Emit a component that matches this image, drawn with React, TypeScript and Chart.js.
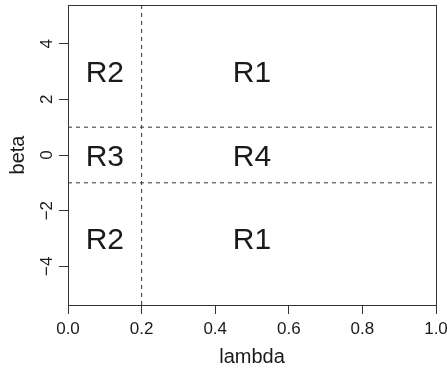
import React, { useEffect, useRef } from "react";
import { Chart, registerables } from "chart.js";

Chart.register(...registerables);

const xTicks = [0, 0.2, 0.4, 0.6, 0.8, 1.0];
const yTicks = [-4, -2, 0, 2, 4];
const xRange = [0, 1];
const yRange = [-5.39, 5.39];
const splitLambda = [0.2];
const splitBeta = [1, -1];
const regionNames = ["R2", "R1", "R3", "R4", "R2", "R1"];
const regionLambda = [0.1, 0.5, 0.1, 0.5, 0.1, 0.5];
const regionBeta = [3, 3, 0, 0, -3, -3];

const FONT = "'Liberation Sans', Arial, Helvetica, sans-serif";
const INK = "#1a1a1a";
const LINE = "#333333";

export default function App() {
  const ref = useRef<HTMLCanvasElement | null>(null);

  useEffect(() => {
    document.body.style.margin = "0";
    const canvas = ref.current;
    if (!canvas) return;

    const datasets: any[] = [];
    splitLambda.forEach((v) =>
      datasets.push({
        type: "line",
        data: [
          { x: v, y: yRange[0] },
          { x: v, y: yRange[1] },
        ],
        borderColor: LINE,
        borderWidth: 1,
        borderDash: [4, 4],
        pointRadius: 0,
        fill: false,
      })
    );
    splitBeta.forEach((v) =>
      datasets.push({
        type: "line",
        data: [
          { x: xRange[0], y: v },
          { x: xRange[1], y: v },
        ],
        borderColor: LINE,
        borderWidth: 1,
        borderDash: [4, 4],
        pointRadius: 0,
        fill: false,
      })
    );

    const overlay = {
      id: "overlay",
      afterDraw(chart: any) {
        const { ctx, chartArea, scales } = chart;
        const xs = scales.x;
        const ys = scales.y;
        ctx.save();
        ctx.strokeStyle = LINE;
        ctx.lineWidth = 1;
        ctx.strokeRect(
          Math.round(chartArea.left) + 0.5,
          Math.round(chartArea.top) + 0.5,
          Math.round(chartArea.right - chartArea.left),
          Math.round(chartArea.bottom - chartArea.top)
        );
        ctx.fillStyle = INK;
        ctx.font = `17px ${FONT}`;
        ctx.textAlign = "center";
        ctx.textBaseline = "middle";
        ys.ticks.forEach((t: any) => {
          const py = ys.getPixelForValue(t.value);
          ctx.save();
          ctx.translate(47, py);
          ctx.rotate(-Math.PI / 2);
          ctx.fillText(String(t.value).replace("-", "\u2212"), 0, 0);
          ctx.restore();
        });
        const fs = 30;
        ctx.font = `${fs}px ${FONT}`;
        ctx.textBaseline = "alphabetic";
        regionNames.forEach((name, i) => {
          const px = xs.getPixelForValue(regionLambda[i]);
          const py = ys.getPixelForValue(regionBeta[i]);
          ctx.fillText(name, px, py + 0.358 * fs);
        });
        ctx.restore();
      },
    };

    const chart = new Chart(canvas, {
      type: "scatter",
      data: { datasets },
      options: {
        animation: false,
        responsive: false,
        maintainAspectRatio: false,
        layout: { padding: { top: 5, right: 11, left: 0, bottom: 0 } },
        plugins: { legend: { display: false }, tooltip: { enabled: false } },
        scales: {
          x: {
            type: "linear",
            min: xRange[0],
            max: xRange[1],
            afterBuildTicks: (s: any) => {
              s.ticks = xTicks.map((v) => ({ value: v }));
            },
            afterFit: (s: any) => {
              s.height = 64;
              s.paddingLeft = 0;
              s.paddingRight = 0;
            },
            ticks: {
              includeBounds: false,
              maxRotation: 0,
              minRotation: 0,
              autoSkip: false,
              padding: 5,
              color: INK,
              font: { family: FONT, size: 17 },
              callback: (v: any) => Number(v).toFixed(1),
            },
            grid: {
              drawOnChartArea: false,
              drawTicks: true,
              tickLength: 9,
              tickColor: LINE,
              tickWidth: 1,
            },
            border: { display: true, color: LINE, width: 1 },
            title: {
              display: true,
              text: "lambda",
              color: INK,
              font: { family: FONT, size: 20 },
              padding: { top: 0, bottom: 0 },
            },
          },
          y: {
            type: "linear",
            min: yRange[0],
            max: yRange[1],
            afterBuildTicks: (s: any) => {
              s.ticks = yTicks.map((v) => ({ value: v }));
            },
            afterFit: (s: any) => {
              s.width = 68;
              s.paddingTop = 0;
              s.paddingBottom = 0;
            },
            ticks: {
              display: false,
              includeBounds: false,
            },
            grid: {
              drawOnChartArea: false,
              drawTicks: true,
              tickLength: 9,
              tickColor: LINE,
              tickWidth: 1,
            },
            border: { display: true, color: LINE, width: 1 },
            title: {
              display: true,
              text: "beta",
              color: INK,
              font: { family: FONT, size: 20 },
              padding: { top: 6, bottom: 0 },
            },
          },
        },
      },
      plugins: [overlay],
    });
    return () => chart.destroy();
  }, []);

  return <canvas ref={ref} width={447} height={369} style={{ display: "block" }} />;
}
